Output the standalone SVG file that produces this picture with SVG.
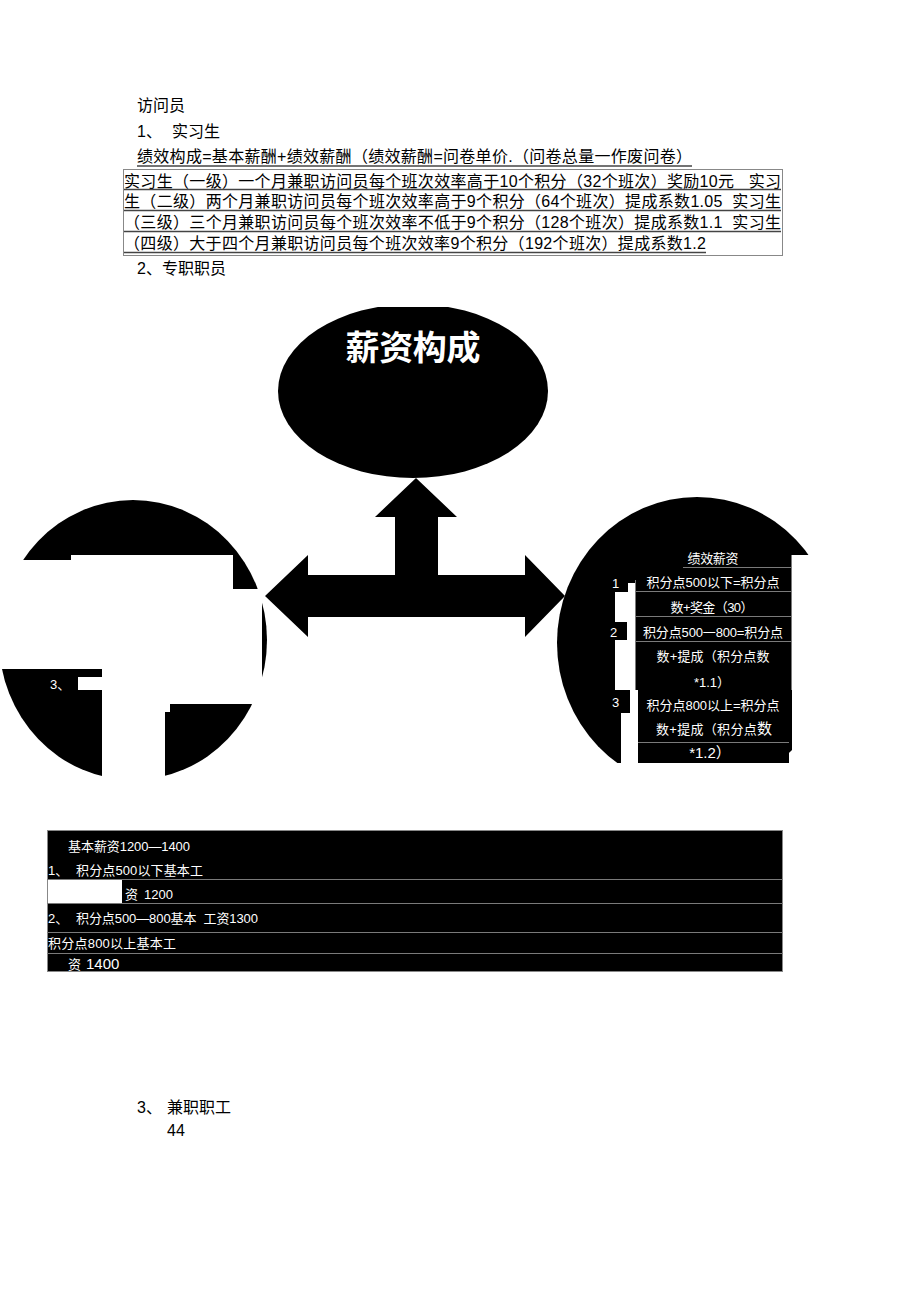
<svg xmlns="http://www.w3.org/2000/svg" width="920" height="1302" viewBox="0 0 920 1302">
<style>
.t { font-family: "Liberation Sans","Noto Sans CJK SC",sans-serif; font-size:16px; fill:#000; }
.w { font-family: "Liberation Sans","Noto Sans CJK SC",sans-serif; font-size:13px; fill:#fff; }
.ul { stroke:#444; stroke-width:1.6; }
.gl { stroke:#7a7a7a; stroke-width:1; fill:none; }
.blk { fill:#000; }
.wh { fill:#fff; }
</style>
<defs>
<clipPath id="clipTop"><rect x="0" y="307" width="920" height="300"/></clipPath>
</defs>
<rect width="920" height="1302" fill="#fff"/>

<g id="header-text">
<text class="t" x="137" y="111">访问员</text>
<text class="t" x="137" y="137">1、</text>
<text class="t" x="172" y="137">实习生</text>
<text class="t" x="137" y="162" textLength="555">绩效构成=基本薪酬+绩效薪酬（绩效薪酬=问卷单价.（问卷总量一作废问卷）</text>
<line class="ul" x1="137" y1="166" x2="692" y2="166"/>
</g>

<g id="intern-box">
<rect x="123.5" y="169.5" width="659" height="86" fill="none" stroke="#888" stroke-width="1"/>
<text class="t" x="124" y="187" textLength="657" xml:space="preserve">实习生（一级）一个月兼职访问员每个班次效率高于10个积分（32个班次）奖励10元   实习</text>
<line class="ul" x1="124" y1="189.5" x2="781" y2="189.5"/>
<text class="t" x="124" y="207" textLength="657" xml:space="preserve">生（二级）两个月兼职访问员每个班次效率高于9个积分（64个班次）提成系数1.05  实习生</text>
<line class="ul" x1="124" y1="210.5" x2="781" y2="210.5"/>
<text class="t" x="124" y="228" textLength="657" xml:space="preserve">（三级）三个月兼职访问员每个班次效率不低于9个积分（128个班次）提成系数1.1  实习生</text>
<line class="ul" x1="124" y1="231.5" x2="781" y2="231.5"/>
<text class="t" x="124" y="249" textLength="582">（四级）大于四个月兼职访问员每个班次效率9个积分（192个班次）提成系数1.2</text>
<line class="ul" x1="124" y1="252.5" x2="706" y2="252.5"/>
<text class="t" x="137" y="274">2、专职职员</text>
</g>

<g id="node-salary">
<ellipse class="blk" cx="413" cy="391" rx="135" ry="87" clip-path="url(#clipTop)"/>
<text x="413" y="360" text-anchor="middle" textLength="135" style="font-family:'Liberation Sans','Noto Sans CJK SC',sans-serif;font-size:34px;font-weight:bold;fill:#fff">薪资构成</text>
</g>

<g id="connectors">
<polygon class="blk" points="265,596 308,555 308,575 395,575 395,517 375,517 416,478 457,517 438,517 438,575 525,575 525,555 565,596 525,637 525,617 308,617 308,637"/>
</g>

<g id="node-left">
<ellipse class="blk" cx="133" cy="640" rx="134" ry="140"/>
<polygon class="wh" points="-5,560 71,560 71,555 233,555 233,589 262,589 262,704 170,704 170,712 165,712 165,790 102,790 102,669 -5,669"/>
<rect class="wh" x="78" y="677" width="24" height="13"/>
<text class="w" x="50" y="689">3、</text>
</g>

<g id="node-right">
<ellipse class="blk" cx="697" cy="643" rx="140" ry="146"/>
<rect class="wh" x="792" y="555" width="60" height="250"/>
<rect class="wh" x="600" y="763" width="200" height="40"/>
<rect class="wh" x="628" y="583" width="7" height="9"/>
<rect class="wh" x="615" y="592" width="20" height="30"/>
<rect class="wh" x="627" y="622" width="8" height="18"/>
<rect class="wh" x="615" y="640" width="20" height="50"/>
<rect class="wh" x="630" y="690" width="8" height="23"/>
<rect class="wh" x="621" y="713" width="17" height="50"/>
<rect class="blk" x="635" y="555" width="157" height="135"/>
<rect class="blk" x="638" y="690" width="151" height="73"/>
<line class="gl" x1="683" y1="567.5" x2="792" y2="567.5"/>
<line class="gl" x1="635" y1="591.5" x2="792" y2="591.5"/>
<line class="gl" x1="635" y1="616.5" x2="792" y2="616.5"/>
<line class="gl" x1="635" y1="641.5" x2="792" y2="641.5"/>
<line class="gl" x1="638" y1="742.5" x2="789" y2="742.5"/>
<line class="gl" x1="635.5" y1="580" x2="635.5" y2="690"/>
<line class="gl" x1="791.5" y1="555" x2="791.5" y2="690"/>
<text class="w" x="713" y="563" text-anchor="middle" textLength="51">绩效薪资</text>
<text class="w" x="612" y="588">1</text>
<text class="w" x="713" y="587" text-anchor="middle" textLength="133">积分点500以下=积分点</text>
<text class="w" x="712" y="612" text-anchor="middle" textLength="83">数+奖金（30）</text>
<text class="w" x="610" y="637">2</text>
<text class="w" x="713" y="637" text-anchor="middle" textLength="140">积分点500一800=积分点</text>
<text class="w" x="713" y="661" text-anchor="middle" textLength="113">数+提成（积分点数</text>
<text class="w" x="712" y="687" text-anchor="middle">*1.1）</text>
<text class="w" x="612" y="707">3</text>
<text class="w" x="713" y="710" text-anchor="middle" textLength="133">积分点800以上=积分点</text>
<text class="w" x="714" y="734" text-anchor="middle" textLength="116">数+提成（积分点<tspan style="font-size:15px">数</tspan></text>
<text class="w" x="710" y="758" text-anchor="middle" style="font-size:15px">*1.2）</text>
</g>

<g id="table-basic">
<rect class="blk" x="47" y="830" width="736" height="142"/>
<rect class="wh" x="47" y="880" width="75" height="23"/>
<rect x="47.5" y="830.5" width="735" height="141" fill="none" stroke="#888" stroke-width="1"/>
<line class="gl" x1="47" y1="879.5" x2="783" y2="879.5"/>
<line class="gl" x1="47" y1="903.5" x2="783" y2="903.5"/>
<line class="gl" x1="47" y1="932.5" x2="783" y2="932.5"/>
<line class="gl" x1="47" y1="953.5" x2="783" y2="953.5"/>
<text class="w" x="68" y="851" textLength="122">基本薪资1200—1400</text>
<text class="w" x="48" y="875">1、</text>
<text class="w" x="76" y="875" textLength="127">积分点500以下基本工</text>
<text class="w" x="125" y="899">资</text>
<text class="w" x="144" y="899">1200</text>
<text class="w" x="48" y="923">2、</text>
<text class="w" x="76" y="923" textLength="182" xml:space="preserve">积分点500—800基本  工资1300</text>
<text class="w" x="48" y="948" textLength="128">积分点800以上基本工</text>
<text class="w" x="68" y="969">资</text>
<text class="w" x="86" y="969" style="font-size:15px">1400</text>
</g>

<g id="footer-text">
<text class="t" x="137" y="1113">3、</text>
<text class="t" x="167" y="1113">兼职职工</text>
<text class="t" x="167" y="1136">44</text>
</g>
</svg>
